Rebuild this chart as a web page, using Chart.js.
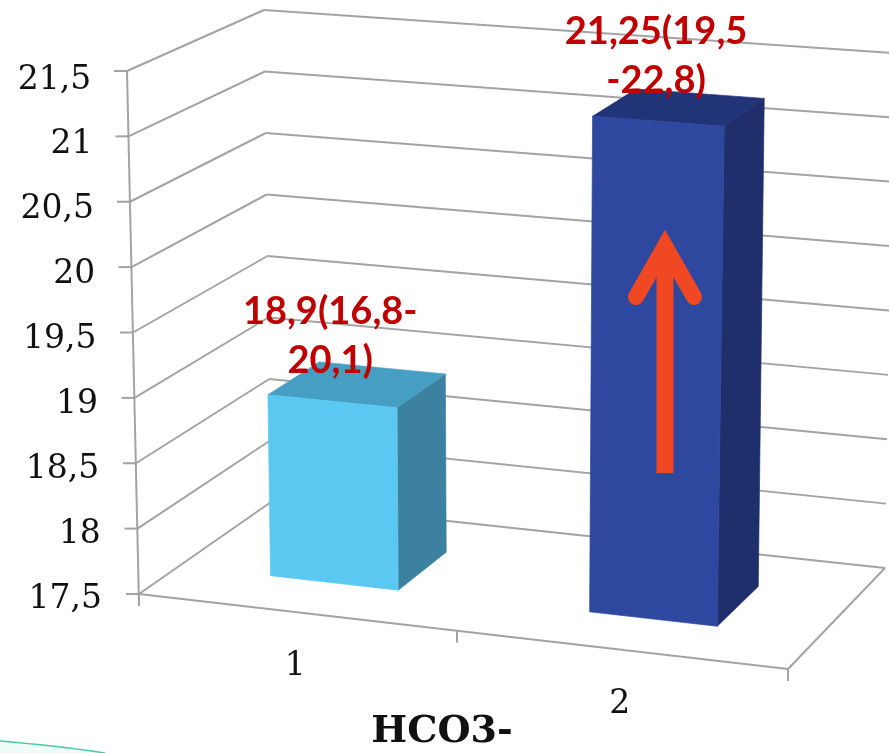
<!DOCTYPE html>
<html>
<head>
<meta charset="utf-8">
<style>
html, body { margin: 0; padding: 0; background: #fff; }
#wrap { position: relative; width: 889px; height: 753px; overflow: hidden; }
</style>
</head>
<body>
<div id="wrap"><canvas id="hco3" width="889" height="753"></canvas></div>
<script src="https://cdn.jsdelivr.net/npm/chart.js@4"></script>
<script>
var categories = ["1", "2"]
var values = [18.9, 21.25]
var tickLabels = ["17,5", "18", "18,5", "19", "19,5", "20", "20,5", "21", "21,5"]
var barLabels = [["18,9(16,8-", "20,1)"], ["21,25(19,5", "-22,8)"]]
var axisTitle = "HCO3-"
var frontColors = ["#5BC8F2", "#2F489F"]
var topColors = ["#479EC3", "#213478"]
var sideColors = ["#3D81A0", "#1F2F6C"]

// corners of the 3d box on the page, u = left-right, v = low-high, w = front-back
var box = {
    flb: [139, 594], frb: [788, 669], blb: [271, 502], brb: [885, 568],
    flt: [127, 71], frt: [800, 122], blt: [264, 10], brt: [893, 53],
}
var barDepth = [0.31, 0.71]
var gridColor = "#A3A3A3"

function mix(a, b, t) {
    return [a[0] + (b[0] - a[0]) * t, a[1] + (b[1] - a[1]) * t]
}

function project(u, v, w) {
    var bottom = mix(mix(box.flb, box.frb, u), mix(box.blb, box.brb, u), w)
    var top = mix(mix(box.flt, box.frt, u), mix(box.blt, box.brt, u), w)
    return mix(bottom, top, v)
}

function poly(ctx, pts, color) {
    ctx.beginPath()
    pts.forEach((p, i) => i ? ctx.lineTo(p[0], p[1]) : ctx.moveTo(p[0], p[1]))
    ctx.closePath()
    ctx.fillStyle = color
    ctx.fill()
    // same colour stroke so faces have no seam
    ctx.strokeStyle = color
    ctx.lineWidth = 0.7
    ctx.stroke()
}

function line(ctx, a, b) {
    ctx.beginPath()
    ctx.moveTo(a[0], a[1])
    ctx.lineTo(b[0], b[1])
    ctx.stroke()
}

var box3d = {
    id: "box3d",
    beforeDraw(chart) {
        // y labels lean with the tilted axis
        var y = chart.scales.y
        if (!y._leaned) {
            y.getLabelItems().forEach((item, i) => {
                item.options.translation[0] += (project(0, i / 8, 0)[0] - box.flb[0]) * 0.9 + 6
            })
            y._leaned = true
        }
        var ctx = chart.ctx
        ctx.save()
        // green slide decoration in the lower left corner
        ctx.beginPath()
        ctx.moveTo(0, 741)
        ctx.quadraticCurveTo(60, 746, 105, 753)
        ctx.lineTo(0, 753)
        ctx.closePath()
        ctx.fillStyle = "#EFFCF7"
        ctx.fill()
        ctx.beginPath()
        ctx.moveTo(0, 741)
        ctx.quadraticCurveTo(60, 746, 105, 753)
        ctx.strokeStyle = "#45CBA9"
        ctx.lineWidth = 1.5
        ctx.stroke()
        ctx.restore()
    },
    beforeDatasetsDraw(chart) {
        var ctx = chart.ctx
        var y = chart.scales.y
        var span = y.max - y.min
        ctx.save()
        ctx.strokeStyle = gridColor
        ctx.lineWidth = 2
        y.ticks.forEach((t) => {
            var v = (t.value - y.min) / span
            var front = project(0, v, 0)
            var back = project(0, v, 1)
            var right = project(1, v, 1)
            line(ctx, front, back)
            line(ctx, back, right)
            line(ctx, [front[0] - 13, front[1]], front)
        })
        // left axis, floor edges and the x ticks
        line(ctx, box.flt, [box.flb[0], box.flb[1] + 11])
        line(ctx, box.flb, box.frb)
        line(ctx, box.frb, box.brb)
        ;[0, 0.49, 1].forEach((u) => {
            var p = project(u, 0, 0)
            line(ctx, p, [p[0], p[1] + 12])
        })
        ctx.restore()
    },
    beforeDatasetDraw() {
        return false
    },
    afterDatasetsDraw(chart) {
        var ctx = chart.ctx
        var area = chart.chartArea
        var bars = chart.getDatasetMeta(0).data
        ctx.save()
        bars.forEach((bar, i) => {
            var u0 = (bar.x - bar.width / 2 - area.left) / area.width - 0.008
            var u1 = (bar.x + bar.width / 2 - area.left) / area.width - 0.008
            var vTop = (area.bottom - bar.y) / area.height
            var vBase = (area.bottom - bar.base) / area.height
            var w0 = barDepth[0], w1 = barDepth[1]
            poly(ctx, [project(u1, vBase, w0), project(u1, vBase, w1), project(u1, vTop, w1), project(u1, vTop, w0)], sideColors[i])
            poly(ctx, [project(u0, vTop, w0), project(u1, vTop, w0), project(u1, vTop, w1), project(u0, vTop, w1)], topColors[i])
            poly(ctx, [project(u0, vBase, w0), project(u1, vBase, w0), project(u1, vTop, w0), project(u0, vTop, w0)], frontColors[i])
        })

        // arrow on the second bar
        ctx.strokeStyle = "#F04823"
        ctx.lineCap = "butt"
        ctx.lineWidth = 17
        line(ctx, [665, 473], [665, 255])
        ctx.lineWidth = 16
        ctx.lineCap = "round"
        ctx.lineJoin = "miter"
        ctx.beginPath()
        ctx.moveTo(636, 297)
        ctx.lineTo(665, 246)
        ctx.lineTo(694, 297)
        ctx.stroke()

        // labels over the bars
        ctx.fillStyle = "#C00000"
        ctx.font = "bold 38px Lato"
        ctx.textAlign = "center"
        ctx.textBaseline = "middle"
        bars.forEach((bar, i) => {
            var u = (bar.x - area.left) / area.width - 0.01
            var anchor = project(u, (area.bottom - bar.y) / area.height, barDepth[0])
            ctx.fillText(barLabels[i][0], anchor[0] - 1, anchor[1] - 89)
            ctx.fillText(barLabels[i][1], anchor[0] - 1, anchor[1] - 40)
        })

        // category labels follow the front edge of the floor
        ctx.fillStyle = "#111"
        ctx.font = "33px 'DejaVu Serif'"
        chart.scales.x.ticks.forEach((t, i) => {
            var u = (chart.scales.x.getPixelForTick(i) - area.left) / area.width
            var p = project(u, 0, 0)
            ctx.fillText(categories[i], p[0] - 6, p[1] + 54)
        })
        ctx.restore()
    },
}

new Chart(document.getElementById("hco3").getContext("2d"), {
    type: "bar",
    data: {
        labels: categories,
        datasets: [{ data: values, base: 17.5, backgroundColor: frontColors, barPercentage: 0.4, categoryPercentage: 1 }],
    },
    options: {
        responsive: false,
        animation: false,
        layout: { padding: { top: 80, right: 109, bottom: 0, left: 0 } },
        plugins: { legend: { display: false }, tooltip: { enabled: false } },
        scales: {
            x: {
                grid: { display: false },
                border: { display: false },
                ticks: { display: false },
                title: {
                    display: true,
                    text: axisTitle,
                    color: "#111",
                    font: { family: "'DejaVu Serif'", weight: "bold", size: 38, lineHeight: 1.1 },
                    padding: { top: 104, bottom: 0 },
                },
            },
            y: {
                min: 17.5,
                max: 21.5,
                afterFit(scale) { scale.width = 104 },
                grid: { display: false },
                border: { display: false },
                ticks: {
                    stepSize: 0.5,
                    padding: 0,
                    color: "#111",
                    font: { family: "'DejaVu Serif'", size: 33 },
                    callback: (v, i) => tickLabels[i],
                },
            },
        },
    },
    plugins: [box3d],
})
</script>
</body>
</html>
